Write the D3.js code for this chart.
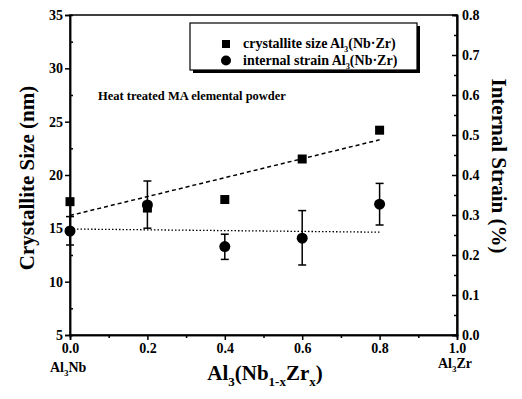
<!DOCTYPE html>
<html>
<head>
<meta charset="utf-8">
<script src="https://cdn.jsdelivr.net/npm/d3@7"></script>
<style>
  body { margin: 0; background: #fff; }
  svg text { font-family: "Liberation Serif", "Times New Roman", serif; font-weight: bold; fill: #000; }
</style>
</head>
<body>
<div id="viz"></div>
<script>
// composition x of Al3(Nb1-xZrx)
var comps = [0.0, 0.2, 0.4, 0.6, 0.8];
// crystallite size (nm), left axis
var sizes = [17.5, 16.9, 17.7, 21.5, 24.2];
// internal strain (%), right axis
var strains = [0.26, 0.325, 0.221, 0.242, 0.327];
var strainLow = [0.225, 0.267, 0.189, 0.175, 0.275];
var strainHigh = [0.296, 0.385, 0.252, 0.311, 0.379];
// fitted lines
var sizeFit = [[0.0, 16.2], [0.8, 23.3]];
var strainFit = [[0.0, 0.265], [0.8, 0.257]];

var xTicks = [0, 0.2, 0.4, 0.6, 0.8, 1.0];
var leftTicks = [5, 10, 15, 20, 25, 30, 35];
var rightTicks = [0, 0.1, 0.2, 0.3, 0.4, 0.5, 0.6, 0.7, 0.8];

var width = 522, height = 399;
var svg = d3.select("#viz").append("svg")
    .attr("width", width)
    .attr("height", height);

var x = d3.scaleLinear().domain([0, 1]).range([70, 457]);
var yL = d3.scaleLinear().domain([5, 35]).range([335, 15]);
var yR = d3.scaleLinear().domain([0, 0.8]).range([335, 15]);

// frame
svg.append("rect")
  .attr("x", x(0)).attr("y", yL(35))
  .attr("width", x(1) - x(0)).attr("height", yL(5) - yL(35))
  .style("fill", "none").style("stroke", "black").style("stroke-width", 1.5);

// left axis
var left = svg.append("g")
  .attr("transform", "translate(" + x(0) + ",0)")
  .call(d3.axisLeft(yL).tickValues(leftTicks).tickSize(5).tickPadding(2).tickFormat(d3.format("d")));
left.append("g").call(d3.axisRight(yL).tickValues(d3.range(7.5, 35, 5)).tickSize(3).tickFormat(""));

// right axis
var right = svg.append("g")
  .attr("transform", "translate(" + x(1) + ",0)")
  .call(d3.axisRight(yR).tickValues(rightTicks).tickSize(0).tickPadding(5).tickFormat(d3.format(".1f")));
right.append("g").call(d3.axisLeft(yR).tickValues(rightTicks).tickSize(5).tickFormat(""));
right.append("g").call(d3.axisLeft(yR).tickValues(d3.range(0.05, 0.8, 0.1)).tickSize(3).tickFormat(""));

// bottom axis
var bottom = svg.append("g")
  .attr("transform", "translate(0," + yL(5) + ")")
  .call(d3.axisBottom(x).tickValues(xTicks).tickSize(5).tickPadding(3).tickFormat(d3.format(".1f")));
bottom.append("g").call(d3.axisBottom(x).tickValues(d3.range(0.1, 1, 0.2)).tickSize(3).tickFormat(""));

svg.selectAll(".domain").style("stroke", "black").style("stroke-width", 1.5);
svg.selectAll(".tick line").style("stroke", "black").style("stroke-width", 1.5);
svg.selectAll(".tick text").style("font-size", "14px")
  .style("font-family", "'Liberation Serif', serif").style("font-weight", "bold");

// fit lines
var line = d3.line();
svg.append("path")
  .attr("d", line(sizeFit.map(function(d) { return [x(d[0]), yL(d[1])]; })))
  .style("fill", "none").style("stroke", "black").style("stroke-width", 1.5)
  .style("stroke-dasharray", "4,3");
svg.append("path")
  .attr("d", line(strainFit.map(function(d) { return [x(d[0]), yR(d[1])]; })))
  .style("fill", "none").style("stroke", "black").style("stroke-width", 1.3)
  .style("stroke-dasharray", "1.5,2");

// error bars for strain
var err = svg.append("g");
comps.forEach(function(c, i) {
  var cx = x(c);
  err.append("line").attr("x1", cx).attr("x2", cx)
    .attr("y1", yR(strainLow[i])).attr("y2", yR(strainHigh[i]))
    .style("stroke", "black").style("stroke-width", 1.5);
  [strainLow[i], strainHigh[i]].forEach(function(v) {
    err.append("line").attr("x1", cx - 4).attr("x2", cx + 4)
      .attr("y1", yR(v)).attr("y2", yR(v))
      .style("stroke", "black").style("stroke-width", 1.5);
  });
});

// squares
svg.selectAll(".sq")
  .data(comps)
  .enter()
  .append("rect")
  .attr("x", function(d) { return x(d) - 4.5; })
  .attr("y", function(d, i) { return yL(sizes[i]) - 4.5; })
  .attr("width", 9).attr("height", 9)
  .style("fill", "black");

// circles
svg.selectAll(".circ")
  .data(comps)
  .enter()
  .append("circle")
  .attr("cx", function(d) { return x(d); })
  .attr("cy", function(d, i) { return yR(strains[i]); })
  .attr("r", 5.5)
  .style("fill", "black");

// legend
var lg = svg.append("g");
lg.append("rect").attr("x", 193).attr("y", 26).attr("width", 227).attr("height", 47).style("fill", "black");
lg.append("rect").attr("x", 190).attr("y", 23).attr("width", 227).attr("height", 47)
  .style("fill", "white").style("stroke", "black").style("stroke-width", 1.2);
lg.append("rect").attr("x", 222).attr("y", 40).attr("width", 8).attr("height", 8).style("fill", "black");
lg.append("circle").attr("cx", 226).attr("cy", 60.5).attr("r", 5).style("fill", "black");

function chem(sel, parts, sub) {
  parts.forEach(function(p) {
    var t = sel.append("tspan").text(p[0]);
    if (p[1]) t.attr("dy", sub).style("font-size", "0.6em");
    else if (p[2]) t.attr("dy", -sub);
  });
}
var l1 = lg.append("text").attr("x", 243).attr("y", 48).style("font-size", "14px");
chem(l1, [["crystallite size Al"], ["3", true], ["(Nb\u00B7Zr)", false, true]], 4);
var l2 = lg.append("text").attr("x", 243).attr("y", 65).style("font-size", "14px");
chem(l2, [["internal strain Al"], ["3", true], ["(Nb\u00B7Zr)", false, true]], 4);

// annotation
svg.append("text").attr("x", 98).attr("y", 100).style("font-size", "12.5px")
  .text("Heat treated MA elemental powder");

// axis titles
svg.append("text")
  .attr("transform", "translate(34,178) rotate(-90)")
  .attr("text-anchor", "middle").style("font-size", "21px")
  .text("Crystallite Size (nm)");
svg.append("text")
  .attr("transform", "translate(492,166) rotate(90)")
  .attr("text-anchor", "middle").style("font-size", "21px")
  .text("Internal Strain (%)");

var xt = svg.append("text").attr("x", 265).attr("y", 380).attr("text-anchor", "middle").style("font-size", "21px");
xt.append("tspan").text("Al");
xt.append("tspan").text("3").attr("dy", 6).style("font-size", "13px");
xt.append("tspan").text("(Nb").attr("dy", -6);
xt.append("tspan").text("1-x").attr("dy", 6).style("font-size", "13px");
xt.append("tspan").text("Zr").attr("dy", -6);
xt.append("tspan").text("x").attr("dy", 6).style("font-size", "13px");
xt.append("tspan").text(")").attr("dy", -6);

var a1 = svg.append("text").attr("x", 50).attr("y", 372).style("font-size", "14px");
a1.append("tspan").text("Al");
a1.append("tspan").text("3").attr("dy", 4).style("font-size", "9px");
a1.append("tspan").text("Nb").attr("dy", -4);
var a2 = svg.append("text").attr("x", 438).attr("y", 368).style("font-size", "14px");
a2.append("tspan").text("Al");
a2.append("tspan").text("3").attr("dy", 4).style("font-size", "9px");
a2.append("tspan").text("Zr").attr("dy", -4);
</script>
</body>
</html>
